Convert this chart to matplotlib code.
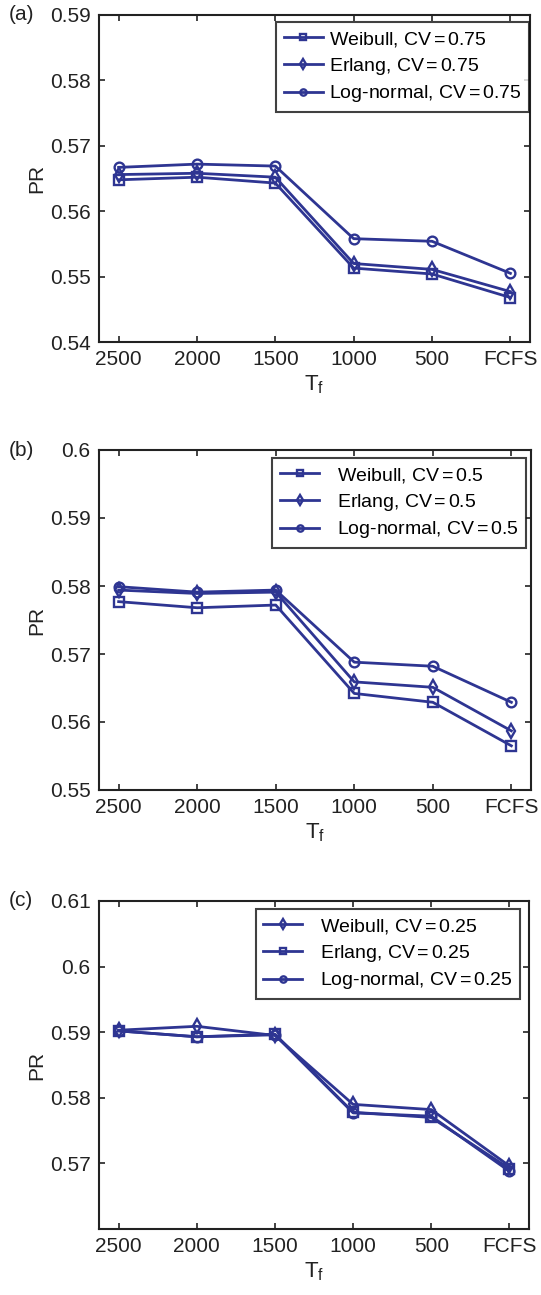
import numpy as np
import matplotlib
matplotlib.use("Agg")
import matplotlib.pyplot as plt

plt.rcParams['font.family'] = ['Liberation Sans', 'DejaVu Sans']
plt.rcParams['mathtext.fontset'] = 'custom'
plt.rcParams['mathtext.rm'] = 'Liberation Sans'
plt.rcParams['mathtext.it'] = 'Liberation Sans'

# data
tf_labels = ['2500', '2000', '1500', '1000', '500', 'FCFS']

# (a) CV = 0.75
a_weibull = [0.5648, 0.5652, 0.5643, 0.5513, 0.5504, 0.5468]
a_erlang = [0.5656, 0.5658, 0.5652, 0.5520, 0.5511, 0.5477]
a_lognormal = [0.5667, 0.5672, 0.5669, 0.5558, 0.5554, 0.5505]

# (b) CV = 0.5
b_weibull = [0.5777, 0.5768, 0.5772, 0.5642, 0.5629, 0.5565]
b_erlang = [0.5794, 0.5789, 0.5791, 0.5659, 0.5651, 0.5587]
b_lognormal = [0.5799, 0.5791, 0.5794, 0.5688, 0.5682, 0.5629]

# (c) CV = 0.25
c_weibull = [0.5903, 0.5909, 0.5895, 0.5790, 0.5782, 0.5696]
c_erlang = [0.5902, 0.5893, 0.5897, 0.5778, 0.5770, 0.5692]
c_lognormal = [0.5902, 0.5893, 0.5896, 0.5777, 0.5772, 0.5688]

COL = '#2E3592'
TXT = '#222222'
FS = 15

fig = plt.figure(figsize=(5.41, 12.95), dpi=100)
W, H = 541.0, 1295.0

def axes_px(left, top, right, bottom):
    return fig.add_axes([left / W, 1 - bottom / H, (right - left) / W, (bottom - top) / H])

panels = [
    dict(tag='(a)', box=(99, 15, 530, 342), ylim=(0.54, 0.59),
         yticks=[0.54, 0.55, 0.56, 0.57, 0.58, 0.59], yfmt=['0.54', '0.55', '0.56', '0.57', '0.58', '0.59'],
         series=[(a_weibull, 's', 'Weibull, CV$\\,$=$\\,$0.75'),
                 (a_erlang, 'd', 'Erlang, CV$\\,$=$\\,$0.75'),
                 (a_lognormal, 'o', 'Log-normal, CV$\\,$=$\\,$0.75')],
         leg=(529, 22), tpad=0.3),
    dict(tag='(b)', box=(99, 450, 531, 790), ylim=(0.55, 0.60),
         yticks=[0.55, 0.56, 0.57, 0.58, 0.59, 0.60], yfmt=['0.55', '0.56', '0.57', '0.58', '0.59', '0.6'],
         series=[(b_weibull, 's', 'Weibull, CV$\\,$=$\\,$0.5'),
                 (b_erlang, 'd', 'Erlang, CV$\\,$=$\\,$0.5'),
                 (b_lognormal, 'o', 'Log-normal, CV$\\,$=$\\,$0.5')],
         leg=(526, 458), tpad=0.9),
    dict(tag='(c)', box=(99, 901, 529, 1229), ylim=(0.56, 0.61),
         yticks=[0.57, 0.58, 0.59, 0.60, 0.61], yfmt=['0.57', '0.58', '0.59', '0.6', '0.61'],
         series=[(c_weibull, 'd', 'Weibull, CV$\\,$=$\\,$0.25'),
                 (c_erlang, 's', 'Erlang, CV$\\,$=$\\,$0.25'),
                 (c_lognormal, 'o', 'Log-normal, CV$\\,$=$\\,$0.25')],
         leg=(520, 909), tpad=0.9),
]

x = np.arange(1, len(tf_labels) + 1)

for p in panels:
    l, t, r, b = p['box']
    ax = axes_px(l, t, r, b)
    for vals, mk, lab in p['series']:
        ax.plot(x, vals, color=COL, lw=2.0, marker=mk, ms=7 if mk != 'd' else 7.5,
                mfc='none', mec=COL, mew=1.7, label=lab)
    ax.set_xlim(0.75, 6.25)
    ax.set_ylim(*p['ylim'])
    ax.set_xticks(x)
    ax.set_xticklabels(tf_labels, fontsize=FS, color=TXT)
    ax.set_yticks(p['yticks'])
    ax.set_yticklabels(p['yfmt'], fontsize=FS, color=TXT)
    ax.tick_params(direction='in', length=4, width=1.2, top=True, right=True, pad=6, color=TXT)
    for s in ax.spines.values():
        s.set_linewidth(1.5)
        s.set_color(TXT)
    ax.set_xlabel('$\\mathrm{T_f}$', fontsize=FS + 1, color=TXT, labelpad=3)
    fig.text(37 / W, 1 - ((t + b) / 2) / H, 'PR', rotation=90, fontsize=FS,
             ha='center', va='center', color=TXT)
    fig.text(9 / W, 1 - t / H, p['tag'], fontsize=FS, ha='left', va='center', color=TXT)
    lx, ly = p['leg']
    leg = ax.legend(loc='upper right', bbox_to_anchor=(lx / W, 1 - ly / H),
                    bbox_transform=fig.transFigure, fontsize=14, frameon=True,
                    fancybox=False, edgecolor='#111111', handlelength=2.0,
                    handletextpad=p['tpad'], borderpad=0.4, labelspacing=0.35,
                    borderaxespad=0, markerscale=0.65)
    leg.get_frame().set_linewidth(1.5)

fig.savefig('out.png', dpi=100)
